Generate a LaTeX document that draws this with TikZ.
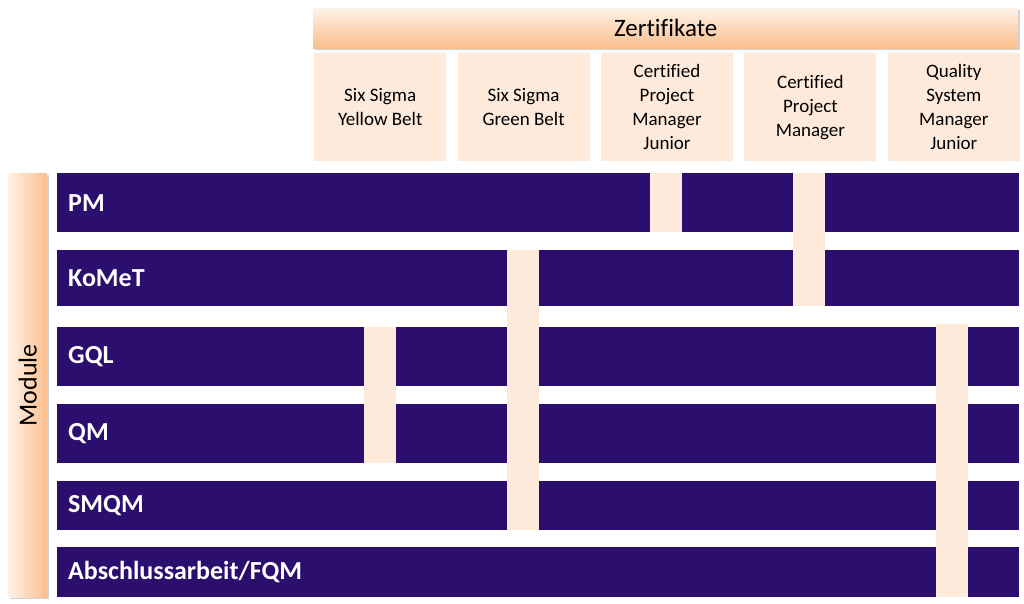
\documentclass[tikz,border=0pt]{standalone}
\usepackage{fontspec}
\setmainfont{Carlito}[Ligatures=NoCommon]
\usetikzlibrary{positioning,shadows}
\definecolor{modul}{RGB}{43,14,110}
\definecolor{peach}{RGB}{253,234,218}
\definecolor{orlight}{RGB}{254,242,232}
\definecolor{ordark}{RGB}{250,190,140}
\def \rowfont{\bfseries\fontsize{26}{30}\selectfont}
\def \headfont{\fontsize{19}{24}\selectfont}
\tikzset{
  modrow/.style={fill=modul, text=white, font=\rowfont, anchor=north west,
    inner xsep=11pt, inner ysep=0pt, text width=940pt, align=left},
  certbox/.style={fill=peach, font=\headfont, anchor=north west, inner sep=0pt,
    minimum width=132pt, minimum height=108pt, align=center},
  orshadow/.style={drop shadow={opacity=.35, shadow xshift=1.5pt, shadow yshift=-2pt}}
}

\begin{document}
\begin{tikzpicture}[x=1pt,y=-1pt]

    \fill[white] (0,0) rectangle (1024,604);
    \useasboundingbox (0,0) rectangle (1024,604);

    % Zertifikate
    \node[orshadow, top color=orlight, bottom color=ordark, anchor=north west,
      minimum width=705pt, minimum height=40pt, inner sep=0pt,
      font=\fontsize{25}{30}\selectfont] (zert) at (313,8) {Zertifikate};

    \node[certbox] (ssyb) at (314,53) {Six Sigma\\Yellow Belt};
    \node[certbox, right=11pt of ssyb] (ssgb) {Six Sigma\\Green Belt};
    \node[certbox, right=11pt of ssgb] (cpmj) {Certified\\Project\\Manager\\Junior};
    \node[certbox, right=11pt of cpmj] (cpm) {Certified\\Project\\Manager};
    \node[certbox, right=11pt of cpm] (qsmj) {Quality\\System\\Manager\\Junior};

    % Module
    \node[orshadow, left color=orlight, right color=ordark, anchor=north west,
      minimum width=39pt, minimum height=424pt, inner sep=0pt] (modbar) at (8,173) {};
    \node[rotate=90, font=\fontsize{26}{30}\selectfont] (modlabel) at (modbar.center) {Module};

    \node[modrow, minimum height=59pt] (pm) at (57,173) {PM};
    \node[modrow, minimum height=56pt] (komet) at (57,250) {KoMeT};
    \node[modrow, minimum height=59pt] (gql) at (57,327) {GQL};
    \node[modrow, minimum height=59pt] (qm) at (57,404) {QM};
    \node[modrow, minimum height=49pt] (smqm) at (57,481) {SMQM};
    \node[modrow, minimum height=50pt] (fqm) at (57,547) {Abschlussarbeit/FQM};

    % Zuordnung
    \foreach \x/\ya/\yb in {380/327/463, 523/250/530, 666/173/232, 809/173/306, 952/324/597}
      \fill[peach] (\x-16,\ya) rectangle (\x+16,\yb);

  \end{tikzpicture}
\end{document}
